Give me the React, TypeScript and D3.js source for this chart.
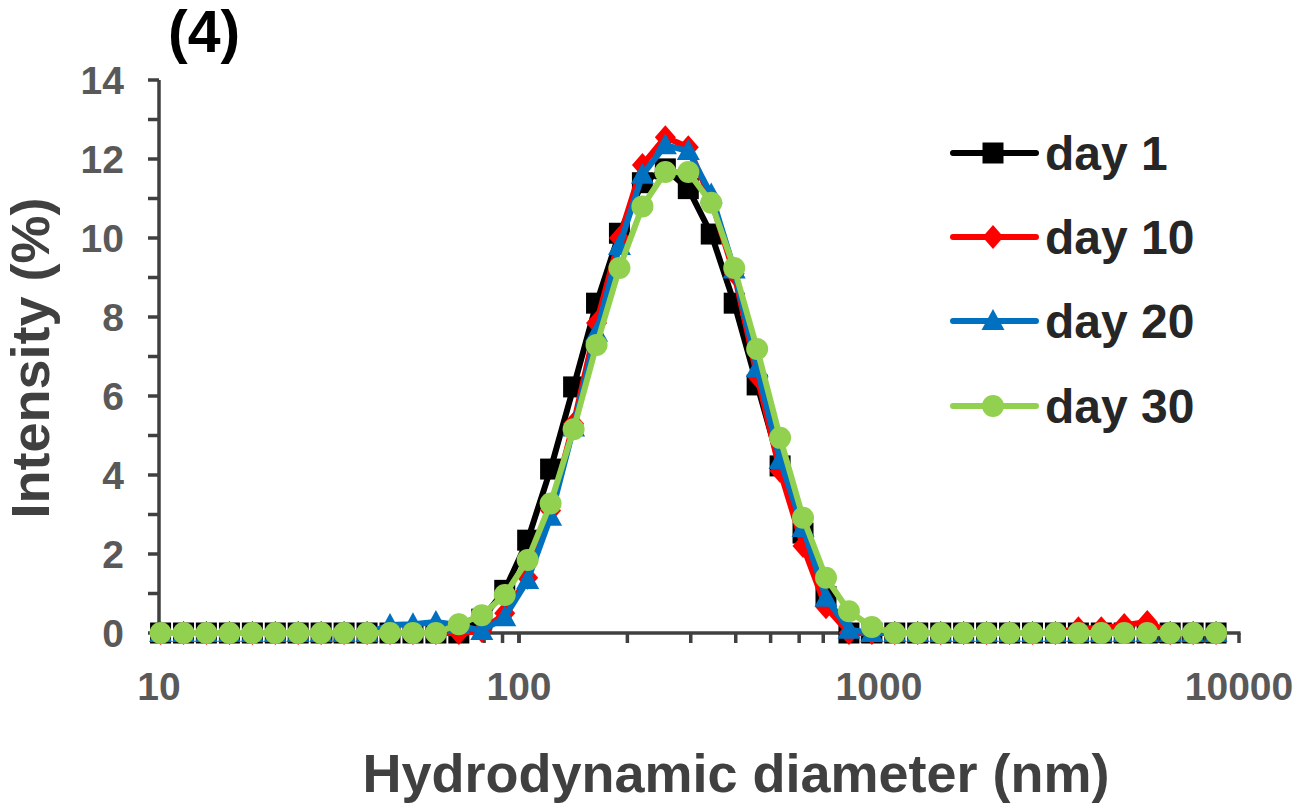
import React from "react";
import * as d3 from "d3";

const sizes = [10.10, 11.70, 13.54, 15.69, 18.17, 21.04, 24.36, 28.21, 32.67, 37.84, 43.82, 50.75, 58.77, 68.06, 78.82, 91.28, 105.7, 122.4, 141.8, 164.2, 190.1, 220.2, 255.0, 295.3, 342.0, 396.1, 458.7, 531.2, 615.1, 712.4, 825.0, 955.4, 1106, 1281, 1484, 1718, 1990, 2305, 2669, 3091, 3580, 4145, 4801, 5560, 6439, 7456, 8635];

const day1 = [0, 0, 0, 0, 0, 0, 0, 0, 0, 0, 0, 0, 0, 0, 0.35, 1.08, 2.35, 4.15, 6.23, 8.35, 10.12, 11.4, 11.75, 11.25, 10.1, 8.35, 6.28, 4.23, 2.53, 0.92, 0, 0, 0, 0, 0, 0, 0, 0, 0, 0, 0, 0, 0, 0, 0, 0, 0];
const day10 = [0, 0, 0, 0, 0, 0, 0, 0, 0, 0, 0, 0, 0, 0, 0.05, 0.5, 1.4, 3.1, 5.3, 7.85, 10.0, 11.85, 12.55, 12.3, 10.95, 9.1, 6.5, 4.1, 2.2, 0.65, 0, 0, 0, 0, 0, 0, 0, 0, 0, 0, 0.12, 0.12, 0.2, 0.28, 0, 0, 0];
const day20 = [0, 0, 0, 0, 0, 0, 0, 0, 0, 0, 0.2, 0.22, 0.28, 0.2, 0.05, 0.4, 1.34, 2.94, 5.2, 7.6, 9.8, 11.6, 12.35, 12.2, 11.1, 9.2, 6.7, 4.38, 2.66, 0.89, 0.08, 0, 0, 0, 0, 0, 0, 0, 0, 0, 0, 0, 0, 0, 0, 0, 0];
const day30 = [0, 0, 0, 0, 0, 0, 0, 0, 0, 0, 0, 0, 0, 0.22, 0.45, 0.96, 1.85, 3.28, 5.16, 7.29, 9.24, 10.8, 11.67, 11.67, 10.89, 9.24, 7.19, 4.94, 2.92, 1.4, 0.55, 0.15, 0, 0, 0, 0, 0, 0, 0, 0, 0, 0, 0, 0, 0, 0, 0];

const seriesNames = ["day 1", "day 10", "day 20", "day 30"];
const seriesValues = [day1, day10, day20, day30];
const seriesColors = ["#000000", "#FF0000", "#0070C0", "#92D050"];
const seriesMarkers = ["square", "diamond", "triangle", "circle"];

const yTicks = [0, 1, 2, 3, 4, 5, 6, 7, 8, 9, 10, 11, 12, 13, 14];
const yLabels = [0, 2, 4, 6, 8, 10, 12, 14];
const xLabels = [10, 100, 1000, 10000];

const W = 1298;
const H = 809;
const FONT = "'Liberation Sans', Arial, sans-serif";

function markerPath(kind: string): string {
  if (kind === "square") {
    const s = 10.5;
    return `M${-s},${-s}H${s}V${s}H${-s}Z`;
  }
  if (kind === "diamond") {
    const w = 10.5, h = 12;
    return `M0,${-h}L${w},0L0,${h}L${-w},0Z`;
  }
  if (kind === "triangle") {
    const b = 11.5, t = 12, bt = 9;
    return `M0,${-t}L${b},${bt}L${-b},${bt}Z`;
  }
  return d3.symbol(d3.symbolCircle, Math.PI * 11 * 11)() as string;
}

export default function App() {
  const x = d3.scaleLog().domain([10, 10000]).range([159, 1239]);
  const y = d3.scaleLinear().domain([0, 14]).range([633, 80]);
  const line = d3
    .line<number>()
    .x((_, i) => x(sizes[i]))
    .y((v) => y(v));

  const minorX: number[] = [];
  for (const dec of [10, 100, 1000]) {
    for (let k = 1; k <= 10; k++) minorX.push(dec * k);
  }

  const axisColor = "#404040";
  const legendRows = [153, 237, 321, 406];

  return (
    <svg
      width={W}
      height={H}
      style={{ position: "absolute", left: 0, top: 0, background: "#fff" }}
      fontFamily={FONT}
    >
      <rect x={0} y={0} width={W} height={H} fill="#fff" />
      {/* title */}
      <text x={168} y={52} fontSize={59} fontWeight="bold" fill="#000">
        (4)
      </text>

      {/* y axis */}
      <line x1={159} x2={159} y1={y(14)} y2={y(0)} stroke={axisColor} strokeWidth={3.5} />
      {yTicks.map((t) => (
        <line key={"yt" + t} x1={148} x2={159} y1={y(t)} y2={y(t)} stroke={axisColor} strokeWidth={3.5} />
      ))}
      {yLabels.map((t) => (
        <text
          key={"yl" + t}
          x={124}
          y={y(t)}
          dy="0.36em"
          textAnchor="end"
          fontSize={39}
          fontWeight="bold"
          fill="#595959"
        >
          {t}
        </text>
      ))}

      {/* x axis */}
      <line x1={157.5} x2={1240.5} y1={y(0)} y2={y(0)} stroke={axisColor} strokeWidth={3.5} />
      {minorX.map((t) => (
        <line key={"xt" + t} x1={x(t)} x2={x(t)} y1={y(0)} y2={y(0) + 10} stroke={axisColor} strokeWidth={3.5} />
      ))}
      {xLabels.map((t) => (
        <text
          key={"xl" + t}
          x={x(t)}
          y={700}
          textAnchor="middle"
          fontSize={39}
          fontWeight="bold"
          fill="#595959"
        >
          {t}
        </text>
      ))}

      {/* axis titles */}
      <text x={736} y={792} textAnchor="middle" fontSize={54} fontWeight="bold" fill="#404040">
        Hydrodynamic diameter (nm)
      </text>
      <text
        transform={`translate(49,358) rotate(-90)`}
        textAnchor="middle"
        fontSize={54}
        fontWeight="bold"
        fill="#404040"
      >
        Intensity (%)
      </text>

      {/* series */}
      {seriesValues.map((vals, si) => (
        <g key={"s" + si}>
          <path
            d={line(vals) as string}
            fill="none"
            stroke={seriesColors[si]}
            strokeWidth={6}
            strokeLinejoin="round"
            strokeLinecap="round"
          />
          {vals.map((v, i) => (
            <path
              key={i}
              d={markerPath(seriesMarkers[si])}
              transform={`translate(${x(sizes[i])},${y(v)})`}
              fill={seriesColors[si]}
            />
          ))}
        </g>
      ))}

      {/* legend */}
      {seriesNames.map((name, si) => (
        <g key={"lg" + si} transform={`translate(0,${legendRows[si]})`}>
          <line x1={953} x2={1036} y1={0} y2={0} stroke={seriesColors[si]} strokeWidth={6} strokeLinecap="round" />
          <path d={markerPath(seriesMarkers[si])} transform="translate(993,0)" fill={seriesColors[si]} />
          <text x={1045} y={17} fontSize={48} fontWeight="bold" fill="#262626">
            {name}
          </text>
        </g>
      ))}
    </svg>
  );
}
